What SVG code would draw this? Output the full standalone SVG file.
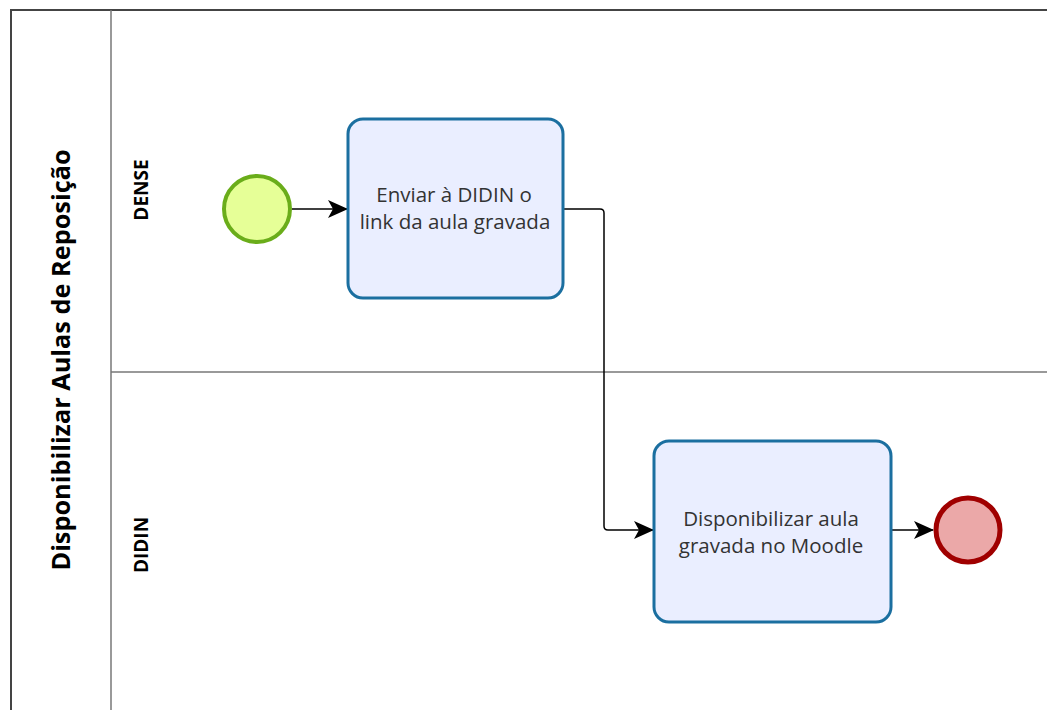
<svg xmlns="http://www.w3.org/2000/svg" width="1047" height="710" viewBox="0 0 1047 710">
<style>
.pool{fill:none;stroke:#444;stroke-width:2}
.lane{fill:none;stroke:#777;stroke-width:1.5}
.task{fill:#eaeeff;stroke:#1b6fa0;stroke-width:3}
.tt{font-family:"Open Sans","DejaVu Sans",sans-serif;font-size:20.5px;fill:#333;text-anchor:middle}
.lbl{font-family:"Open Sans","DejaVu Sans",sans-serif;font-weight:bold;fill:#000;text-anchor:middle}
.flow{fill:none;stroke:#000;stroke-width:1.5}
</style>
<defs>
<marker id="arr" viewBox="0 0 20 18" refX="19" refY="9" markerWidth="20" markerHeight="18" markerUnits="userSpaceOnUse" orient="auto">
<path d="M0,0 L20,9 L0,18 L5,9 Z" fill="#000"/>
</marker>
</defs>
<rect width="1047" height="710" fill="#fff"/>
<g id="pool">
<rect class="pool" x="11" y="10" width="1050" height="720"/>
<line class="lane" x1="111" y1="10" x2="111" y2="710"/>
<line class="lane" x1="111" y1="372" x2="1047" y2="372"/>
<text class="lbl" font-size="25.3" transform="translate(70,360) rotate(-90)">Disponibilizar Aulas de Reposição</text>
</g>
<g id="lane-dense"><text class="lbl" font-size="19" transform="translate(148,190) rotate(-90)">DENSE</text></g>
<g id="lane-didin"><text class="lbl" font-size="19" transform="translate(148,545) rotate(-90)">DIDIN</text></g>
<g id="connectors">
<path class="flow" d="M292,209 H347" marker-end="url(#arr)"/>
<path class="flow" d="M563,209 H600 Q604,209 604,213 V526 Q604,530 608,530 H653" marker-end="url(#arr)"/>
<path class="flow" d="M891,530 H933" marker-end="url(#arr)"/>
</g>
<g id="start"><circle cx="257" cy="209" r="33" fill="#e6ff97" stroke="#6aad1a" stroke-width="4"/></g>
<g id="task1">
<rect class="task" x="348" y="119" width="215" height="179" rx="15"/>
<text class="tt" x="454" y="202">Enviar à DIDIN o</text>
<text class="tt" x="455" y="229">link da aula gravada</text>
</g>
<g id="task2">
<rect class="task" x="654" y="441" width="237" height="181" rx="15"/>
<text class="tt" x="771" y="526">Disponibilizar aula</text>
<text class="tt" x="771" y="553">gravada no Moodle</text>
</g>
<g id="end"><circle cx="968" cy="530" r="32" fill="#eba8a8" stroke="#a00000" stroke-width="5"/></g>
</svg>
